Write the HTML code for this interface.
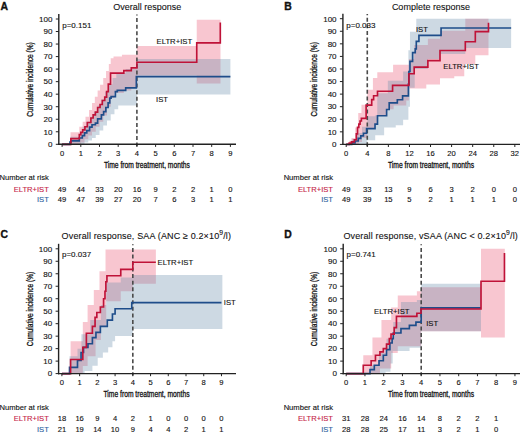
<!DOCTYPE html><html><head><meta charset="utf-8"><style>html,body{margin:0;padding:0;background:#fff;}svg{display:block;}text{font-family:"Liberation Sans", sans-serif;stroke-width:0.12px;}text:not([stroke]){stroke:#111;}</style></head><body>
<svg width="520" height="434" viewBox="0 0 520 434" fill="#111"><g stroke="none">
<rect width="520" height="434" fill="#fff"/>
<path d="M70.52 132.27 L79.3 132.27 L79.3 126.76 L82.67 126.76 L82.67 121.75 L85.47 121.75 L85.47 116.73 L89.03 116.73 L89.03 109.97 L92.02 109.97 L92.02 102.95 L94.83 102.95 L94.83 96.69 L97.63 96.69 L97.63 90.42 L100.06 90.42 L100.06 84.66 L103.24 84.66 L103.24 77.89 L106.05 77.89 L106.05 71 L108.85 71 L108.85 64.11 L110.72 64.11 L110.72 58.22 L113.53 58.22 L113.53 56.59 L121.94 56.59 L121.94 54.71 L136.9 54.71 L136.9 45.94 L196.74 45.94 L196.74 19.63 L220.49 19.63 L220.49 83.53 L196.74 83.53 L196.74 75.39 L136.9 75.39 L136.9 87.92 L131.29 87.92 L131.29 90.42 L123.81 90.42 L123.81 92.93 L114.46 92.93 L114.46 97.94 L110.72 97.94 L110.72 106.71 L106.98 106.71 L106.98 115.48 L103.24 115.48 L103.24 121.75 L99.5 121.75 L99.5 126.76 L95.76 126.76 L95.76 131.77 L92.02 131.77 L92.02 135.53 L88.28 135.53 L88.28 139.29 L84.54 139.29 L84.54 142.42 L80.8 142.42 L80.8 144.3 L70.52 144.3 Z" fill="#ea5271" fill-opacity="0.33"/>
<path d="M70.52 136.78 L79.86 136.78 L79.86 131.77 L82.67 131.77 L82.67 126.76 L86.41 126.76 L86.41 121.75 L90.15 121.75 L90.15 116.73 L93.89 116.73 L93.89 111.72 L97.63 111.72 L97.63 105.46 L101.37 105.46 L101.37 99.19 L105.11 99.19 L105.11 91.67 L108.85 91.67 L108.85 84.16 L112.59 84.16 L112.59 77.89 L116.33 77.89 L116.33 72.88 L125.68 72.88 L125.68 69.12 L136.9 69.12 L136.9 59.1 L230.4 59.1 L230.4 94.56 L136.9 94.56 L136.9 105.46 L118.2 105.46 L118.2 109.22 L114.46 109.22 L114.46 114.23 L110.72 114.23 L110.72 120.49 L106.98 120.49 L106.98 125.51 L103.24 125.51 L103.24 130.52 L99.5 130.52 L99.5 134.9 L95.76 134.9 L95.76 138.04 L92.02 138.04 L92.02 140.54 L88.28 140.54 L88.28 142.42 L84.54 142.42 L84.54 144.3 L70.52 144.3 Z" fill="#688caa" fill-opacity="0.33"/>
<line x1="136.9" y1="14.4" x2="136.9" y2="146.3" stroke="#4a4a4a" stroke-width="1.6" stroke-dasharray="4,2.55" stroke-dashoffset="2.85"/>
<path d="M62.1 144.3 H69.95 V142.04 H71.08 V140.92 H79.3 V138.04 H82.3 V135.65 H84.54 V132.9 H86.78 V130.64 H89.59 V127.13 H92.02 V124.75 H95.39 V123.12 H97.63 V118.86 H101.37 V114.85 H103.61 V111.6 H105.86 V107.46 H108.1 V102.83 H109.78 V98.19 H111.09 V96.69 H115.4 V91.67 H117.27 V90.42 H125.68 V87.92 H136.34 V76.64 H230.4" fill="none" stroke="#1e4d8a" stroke-width="1.65"/>
<path d="M62.1 144.3 H70.89 V138.66 H79.3 V134.65 H80.8 V132.4 H82.67 V129.89 H84.91 V126.76 H87.34 V122.5 H90.9 V117.99 H93.14 V114.85 H95.39 V112.1 H97.63 V107.46 H100.06 V104.45 H102.31 V100.45 H104.74 V97.06 H106.61 V91.67 H108.29 V84.16 H110.53 V73.13 H123.81 V70.62 H131.29 V67.87 H136.9 V62.23 H196.74 V42.81 H220.3 V22.51 H220.3" fill="none" stroke="#bf1238" stroke-width="1.65"/>
<line x1="58.8" y1="14" x2="58.8" y2="145" stroke="#222" stroke-width="1.4"/>
<line x1="58.1" y1="144.3" x2="236" y2="144.3" stroke="#222" stroke-width="1.4"/>
<line x1="55.8" y1="144.3" x2="58.8" y2="144.3" stroke="#222" stroke-width="1"/>
<text x="52.5" y="147.1" text-anchor="end" font-size="8.05">0</text>
<line x1="55.8" y1="131.77" x2="58.8" y2="131.77" stroke="#222" stroke-width="1"/>
<text x="52.5" y="134.57" text-anchor="end" font-size="8.05">10</text>
<line x1="55.8" y1="119.24" x2="58.8" y2="119.24" stroke="#222" stroke-width="1"/>
<text x="52.5" y="122.04" text-anchor="end" font-size="8.05">20</text>
<line x1="55.8" y1="106.71" x2="58.8" y2="106.71" stroke="#222" stroke-width="1"/>
<text x="52.5" y="109.51" text-anchor="end" font-size="8.05">30</text>
<line x1="55.8" y1="94.18" x2="58.8" y2="94.18" stroke="#222" stroke-width="1"/>
<text x="52.5" y="96.98" text-anchor="end" font-size="8.05">40</text>
<line x1="55.8" y1="81.65" x2="58.8" y2="81.65" stroke="#222" stroke-width="1"/>
<text x="52.5" y="84.45" text-anchor="end" font-size="8.05">50</text>
<line x1="55.8" y1="69.12" x2="58.8" y2="69.12" stroke="#222" stroke-width="1"/>
<text x="52.5" y="71.92" text-anchor="end" font-size="8.05">60</text>
<line x1="55.8" y1="56.59" x2="58.8" y2="56.59" stroke="#222" stroke-width="1"/>
<text x="52.5" y="59.39" text-anchor="end" font-size="8.05">70</text>
<line x1="55.8" y1="44.06" x2="58.8" y2="44.06" stroke="#222" stroke-width="1"/>
<text x="52.5" y="46.86" text-anchor="end" font-size="8.05">80</text>
<line x1="55.8" y1="31.53" x2="58.8" y2="31.53" stroke="#222" stroke-width="1"/>
<text x="52.5" y="34.33" text-anchor="end" font-size="8.05">90</text>
<line x1="55.8" y1="19" x2="58.8" y2="19" stroke="#222" stroke-width="1"/>
<text x="52.5" y="21.8" text-anchor="end" font-size="8.05">100</text>
<line x1="62.1" y1="144.3" x2="62.1" y2="146.9" stroke="#222" stroke-width="1"/>
<text x="62.1" y="156.1" text-anchor="middle" font-size="7.6">0</text>
<line x1="80.8" y1="144.3" x2="80.8" y2="146.9" stroke="#222" stroke-width="1"/>
<text x="80.8" y="156.1" text-anchor="middle" font-size="7.6">1</text>
<line x1="99.5" y1="144.3" x2="99.5" y2="146.9" stroke="#222" stroke-width="1"/>
<text x="99.5" y="156.1" text-anchor="middle" font-size="7.6">2</text>
<line x1="118.2" y1="144.3" x2="118.2" y2="146.9" stroke="#222" stroke-width="1"/>
<text x="118.2" y="156.1" text-anchor="middle" font-size="7.6">3</text>
<line x1="136.9" y1="144.3" x2="136.9" y2="146.9" stroke="#222" stroke-width="1"/>
<text x="136.9" y="156.1" text-anchor="middle" font-size="7.6">4</text>
<line x1="155.6" y1="144.3" x2="155.6" y2="146.9" stroke="#222" stroke-width="1"/>
<text x="155.6" y="156.1" text-anchor="middle" font-size="7.6">5</text>
<line x1="174.3" y1="144.3" x2="174.3" y2="146.9" stroke="#222" stroke-width="1"/>
<text x="174.3" y="156.1" text-anchor="middle" font-size="7.6">6</text>
<line x1="193" y1="144.3" x2="193" y2="146.9" stroke="#222" stroke-width="1"/>
<text x="193" y="156.1" text-anchor="middle" font-size="7.6">7</text>
<line x1="211.7" y1="144.3" x2="211.7" y2="146.9" stroke="#222" stroke-width="1"/>
<text x="211.7" y="156.1" text-anchor="middle" font-size="7.6">8</text>
<line x1="230.4" y1="144.3" x2="230.4" y2="146.9" stroke="#222" stroke-width="1"/>
<text x="230.4" y="156.1" text-anchor="middle" font-size="7.6">9</text>
<text x="146.9" y="167.7" text-anchor="middle" font-size="8.6" style="stroke-width:0.3px" textLength="86" lengthAdjust="spacingAndGlyphs">Time from treatment, months</text>
<text transform="translate(32.9 79.45) rotate(-90)" text-anchor="middle" font-size="8.6" style="stroke-width:0.3px" textLength="74.5" lengthAdjust="spacingAndGlyphs">Cumulative incidence (%)</text>
<text x="0.6" y="10.2" font-size="10.4" font-weight="bold" style="stroke-width:0.35px">A</text>
<text x="147.2" y="9.6" text-anchor="middle" font-size="9" style="stroke-width:0.1px">Overall response</text>
<text x="62.2" y="27.9" font-size="8">p=0.151</text>
<text x="156.6" y="44.1" font-size="7.7">ELTR+IST</text>
<text x="156.1" y="101.5" font-size="7.7">IST</text>
<text x="48.8" y="180" text-anchor="end" font-size="7.6">Number at risk</text>
<text x="48.8" y="191.7" text-anchor="end" font-size="7.6" fill="#c52348" stroke="#c52348">ELTR+IST</text>
<text x="48.8" y="202.3" text-anchor="end" font-size="7.6" fill="#2d62a0" stroke="#2d62a0">IST</text>
<text x="62.1" y="191.7" text-anchor="middle" font-size="7.6">49</text>
<text x="62.1" y="202.3" text-anchor="middle" font-size="7.6">49</text>
<text x="80.8" y="191.7" text-anchor="middle" font-size="7.6">44</text>
<text x="80.8" y="202.3" text-anchor="middle" font-size="7.6">47</text>
<text x="99.5" y="191.7" text-anchor="middle" font-size="7.6">33</text>
<text x="99.5" y="202.3" text-anchor="middle" font-size="7.6">39</text>
<text x="118.2" y="191.7" text-anchor="middle" font-size="7.6">20</text>
<text x="118.2" y="202.3" text-anchor="middle" font-size="7.6">27</text>
<text x="136.9" y="191.7" text-anchor="middle" font-size="7.6">16</text>
<text x="136.9" y="202.3" text-anchor="middle" font-size="7.6">20</text>
<text x="155.6" y="191.7" text-anchor="middle" font-size="7.6">9</text>
<text x="155.6" y="202.3" text-anchor="middle" font-size="7.6">7</text>
<text x="174.3" y="191.7" text-anchor="middle" font-size="7.6">2</text>
<text x="174.3" y="202.3" text-anchor="middle" font-size="7.6">6</text>
<text x="193" y="191.7" text-anchor="middle" font-size="7.6">2</text>
<text x="193" y="202.3" text-anchor="middle" font-size="7.6">3</text>
<text x="211.7" y="191.7" text-anchor="middle" font-size="7.6">1</text>
<text x="211.7" y="202.3" text-anchor="middle" font-size="7.6">1</text>
<text x="230.4" y="191.7" text-anchor="middle" font-size="7.6">0</text>
<text x="230.4" y="202.3" text-anchor="middle" font-size="7.6">1</text>
<path d="M349.2 140.63 L351.47 140.63 L351.47 138.12 L355.16 138.12 L355.16 127.43 L358.22 127.43 L358.22 112.98 L361.48 112.98 L361.48 104.8 L367.28 104.8 L367.28 89.85 L372.92 89.85 L372.92 78.03 L377.29 78.03 L377.29 72.25 L393.1 72.25 L393.1 64.83 L408.91 64.83 L408.91 58.92 L414.18 58.92 L414.18 45.1 L427.88 45.1 L427.88 38.81 L440.01 38.81 L440.01 30.64 L465.3 30.64 L465.3 18.7 L488.49 18.7 L488.49 55.15 L475.31 55.15 L475.31 63.95 L464.25 63.95 L464.25 76.14 L454.24 76.14 L454.24 78.16 L440.01 78.16 L440.01 84.44 L426.3 84.44 L426.3 88.46 L408.91 88.46 L408.91 100.41 L406.28 100.41 L406.28 105.43 L393.63 105.43 L393.63 109.33 L386.52 109.33 L386.52 115.49 L377.29 115.49 L377.29 124.29 L374.92 124.29 L374.92 128.69 L367.28 128.69 L367.28 138.12 L362.01 138.12 L362.01 141.89 L358.85 141.89 L358.85 144.4 L349.2 144.4 Z" fill="#ea5271" fill-opacity="0.33"/>
<path d="M351.73 139.37 L356.74 139.37 L356.74 133.09 L362.01 133.09 L362.01 126.8 L367.28 126.8 L367.28 116.24 L374.92 116.24 L374.92 115.49 L377.29 115.49 L377.29 93.24 L387.83 93.24 L387.83 80.67 L403.12 80.67 L403.12 71.49 L408.39 71.49 L408.39 50.13 L409.97 50.13 L409.97 31.65 L416.29 31.65 L416.29 18.7 L511.15 18.7 L511.15 48.11 L465.3 48.11 L465.3 53.9 L440.01 53.9 L440.01 58.92 L427.88 58.92 L427.88 68.98 L414.71 68.98 L414.71 87.84 L409.97 87.84 L409.97 106.69 L408.39 106.69 L408.39 119.64 L403.12 119.64 L403.12 125.17 L395.74 125.17 L395.74 127.43 L384.14 127.43 L384.14 135.22 L375.19 135.22 L375.19 140.25 L367.28 140.25 L367.28 144.4 L351.73 144.4 Z" fill="#688caa" fill-opacity="0.33"/>
<line x1="367.28" y1="14.1" x2="367.28" y2="146.4" stroke="#4a4a4a" stroke-width="1.6" stroke-dasharray="4,2.55" stroke-dashoffset="2.85"/>
<path d="M346.2 144.4 H351.73 V142.89 H355 V141.01 H358.22 V138.37 H360.8 V135.85 H363.43 V133.21 H366.59 V128.69 H375.03 V124.16 H377.5 V115.74 H386.62 V109.46 H389.2 V102.92 H397.32 V99.78 H402.59 V95.88 H408.39 V84.06 H408.91 V71.49 H409.97 V61.44 H412.6 V52.64 H415.24 V48.87 H416.29 V41.33 H418.93 V35.42 H441.06 V28 H511.15" fill="none" stroke="#1e4d8a" stroke-width="1.65"/>
<path d="M346.2 144.4 H349.2 V143.14 H351.47 V141.89 H354.32 V139.75 H356.32 V133.84 H357.53 V127.43 H358.8 V124.16 H360.06 V121.02 H361.38 V118.38 H366.12 V105.06 H371.71 V99.65 H373.6 V95.75 H377.5 V91.23 H392.58 V85.32 H408.91 V73.76 H414.18 V67.09 H427.88 V60.56 H440.01 V50.5 H465.3 V41.7 H475.31 V31.65 H488.49 V22.85 H488.49" fill="none" stroke="#bf1238" stroke-width="1.65"/>
<line x1="342.9" y1="13.7" x2="342.9" y2="145.1" stroke="#222" stroke-width="1.4"/>
<line x1="342.2" y1="144.4" x2="520" y2="144.4" stroke="#222" stroke-width="1.4"/>
<line x1="339.9" y1="144.4" x2="342.9" y2="144.4" stroke="#222" stroke-width="1"/>
<text x="336.6" y="147.2" text-anchor="end" font-size="8.05">0</text>
<line x1="339.9" y1="131.83" x2="342.9" y2="131.83" stroke="#222" stroke-width="1"/>
<text x="336.6" y="134.63" text-anchor="end" font-size="8.05">10</text>
<line x1="339.9" y1="119.26" x2="342.9" y2="119.26" stroke="#222" stroke-width="1"/>
<text x="336.6" y="122.06" text-anchor="end" font-size="8.05">20</text>
<line x1="339.9" y1="106.69" x2="342.9" y2="106.69" stroke="#222" stroke-width="1"/>
<text x="336.6" y="109.49" text-anchor="end" font-size="8.05">30</text>
<line x1="339.9" y1="94.12" x2="342.9" y2="94.12" stroke="#222" stroke-width="1"/>
<text x="336.6" y="96.92" text-anchor="end" font-size="8.05">40</text>
<line x1="339.9" y1="81.55" x2="342.9" y2="81.55" stroke="#222" stroke-width="1"/>
<text x="336.6" y="84.35" text-anchor="end" font-size="8.05">50</text>
<line x1="339.9" y1="68.98" x2="342.9" y2="68.98" stroke="#222" stroke-width="1"/>
<text x="336.6" y="71.78" text-anchor="end" font-size="8.05">60</text>
<line x1="339.9" y1="56.41" x2="342.9" y2="56.41" stroke="#222" stroke-width="1"/>
<text x="336.6" y="59.21" text-anchor="end" font-size="8.05">70</text>
<line x1="339.9" y1="43.84" x2="342.9" y2="43.84" stroke="#222" stroke-width="1"/>
<text x="336.6" y="46.64" text-anchor="end" font-size="8.05">80</text>
<line x1="339.9" y1="31.27" x2="342.9" y2="31.27" stroke="#222" stroke-width="1"/>
<text x="336.6" y="34.07" text-anchor="end" font-size="8.05">90</text>
<line x1="339.9" y1="18.7" x2="342.9" y2="18.7" stroke="#222" stroke-width="1"/>
<text x="336.6" y="21.5" text-anchor="end" font-size="8.05">100</text>
<line x1="346.2" y1="144.4" x2="346.2" y2="147" stroke="#222" stroke-width="1"/>
<text x="346.2" y="156.2" text-anchor="middle" font-size="7.6">0</text>
<line x1="367.28" y1="144.4" x2="367.28" y2="147" stroke="#222" stroke-width="1"/>
<text x="367.28" y="156.2" text-anchor="middle" font-size="7.6">4</text>
<line x1="388.36" y1="144.4" x2="388.36" y2="147" stroke="#222" stroke-width="1"/>
<text x="388.36" y="156.2" text-anchor="middle" font-size="7.6">8</text>
<line x1="409.44" y1="144.4" x2="409.44" y2="147" stroke="#222" stroke-width="1"/>
<text x="409.44" y="156.2" text-anchor="middle" font-size="7.6">12</text>
<line x1="430.52" y1="144.4" x2="430.52" y2="147" stroke="#222" stroke-width="1"/>
<text x="430.52" y="156.2" text-anchor="middle" font-size="7.6">16</text>
<line x1="451.6" y1="144.4" x2="451.6" y2="147" stroke="#222" stroke-width="1"/>
<text x="451.6" y="156.2" text-anchor="middle" font-size="7.6">20</text>
<line x1="472.68" y1="144.4" x2="472.68" y2="147" stroke="#222" stroke-width="1"/>
<text x="472.68" y="156.2" text-anchor="middle" font-size="7.6">24</text>
<line x1="493.76" y1="144.4" x2="493.76" y2="147" stroke="#222" stroke-width="1"/>
<text x="493.76" y="156.2" text-anchor="middle" font-size="7.6">28</text>
<line x1="514.84" y1="144.4" x2="514.84" y2="147" stroke="#222" stroke-width="1"/>
<text x="514.84" y="156.2" text-anchor="middle" font-size="7.6">32</text>
<text x="431" y="167.8" text-anchor="middle" font-size="8.6" style="stroke-width:0.3px" textLength="86" lengthAdjust="spacingAndGlyphs">Time from treatment, months</text>
<text transform="translate(317 79.35) rotate(-90)" text-anchor="middle" font-size="8.6" style="stroke-width:0.3px" textLength="74.5" lengthAdjust="spacingAndGlyphs">Cumulative incidence (%)</text>
<text x="284.2" y="10.2" font-size="10.4" font-weight="bold" style="stroke-width:0.35px">B</text>
<text x="430.9" y="9.6" text-anchor="middle" font-size="9" style="stroke-width:0.1px">Complete response</text>
<text x="346.3" y="27.6" font-size="8">p=0.033</text>
<text x="443.3" y="69.2" font-size="7.7">ELTR+IST</text>
<text x="415.9" y="31.8" font-size="7.7">IST</text>
<text x="333" y="180" text-anchor="end" font-size="7.6">Number at risk</text>
<text x="333" y="191.7" text-anchor="end" font-size="7.6" fill="#c52348" stroke="#c52348">ELTR+IST</text>
<text x="333" y="202.3" text-anchor="end" font-size="7.6" fill="#2d62a0" stroke="#2d62a0">IST</text>
<text x="346.2" y="191.7" text-anchor="middle" font-size="7.6">49</text>
<text x="346.2" y="202.3" text-anchor="middle" font-size="7.6">49</text>
<text x="367.28" y="191.7" text-anchor="middle" font-size="7.6">33</text>
<text x="367.28" y="202.3" text-anchor="middle" font-size="7.6">39</text>
<text x="388.36" y="191.7" text-anchor="middle" font-size="7.6">13</text>
<text x="388.36" y="202.3" text-anchor="middle" font-size="7.6">15</text>
<text x="409.44" y="191.7" text-anchor="middle" font-size="7.6">9</text>
<text x="409.44" y="202.3" text-anchor="middle" font-size="7.6">5</text>
<text x="430.52" y="191.7" text-anchor="middle" font-size="7.6">6</text>
<text x="430.52" y="202.3" text-anchor="middle" font-size="7.6">2</text>
<text x="451.6" y="191.7" text-anchor="middle" font-size="7.6">3</text>
<text x="451.6" y="202.3" text-anchor="middle" font-size="7.6">1</text>
<text x="472.68" y="191.7" text-anchor="middle" font-size="7.6">2</text>
<text x="472.68" y="202.3" text-anchor="middle" font-size="7.6">1</text>
<text x="493.76" y="191.7" text-anchor="middle" font-size="7.6">0</text>
<text x="493.76" y="202.3" text-anchor="middle" font-size="7.6">1</text>
<text x="514.84" y="191.7" text-anchor="middle" font-size="7.6">0</text>
<text x="514.84" y="202.3" text-anchor="middle" font-size="7.6">0</text>
<path d="M70.59 341.15 L82.82 341.15 L82.82 321.93 L87.61 321.93 L87.61 304.96 L93.81 304.96 L93.81 289.98 L99.49 289.98 L99.49 271.26 L105.52 271.26 L105.52 249.42 L155.87 249.42 L155.87 283.74 L132.82 283.74 L132.82 291.23 L120.76 291.23 L120.76 301.22 L106.22 301.22 L106.22 326.18 L100.91 326.18 L100.91 339.9 L95.59 339.9 L95.59 356.13 L87.61 356.13 L87.61 366.11 L82.82 366.11 L82.82 373.6 L70.59 373.6 Z" fill="#ea5271" fill-opacity="0.33"/>
<path d="M69.52 356.13 L77.5 356.13 L77.5 348.64 L81.4 348.64 L81.4 334.29 L90.27 334.29 L90.27 319.94 L100.91 319.94 L100.91 304.96 L106.22 304.96 L106.22 282.5 L120.76 282.5 L120.76 277.5 L132.82 277.5 L132.82 275.01 L222.36 275.01 L222.36 329.05 L132.82 329.05 L132.82 335.91 L115.09 335.91 L115.09 341.15 L112.43 341.15 L112.43 347.27 L108.18 347.27 L108.18 352.51 L102.86 352.51 L102.86 357.75 L97.71 357.75 L97.71 365.74 L92.4 365.74 L92.4 371.1 L84.59 371.1 L84.59 373.6 L69.52 373.6 Z" fill="#688caa" fill-opacity="0.33"/>
<line x1="132.82" y1="244.2" x2="132.82" y2="375.6" stroke="#4a4a4a" stroke-width="1.6" stroke-dasharray="4,2.55" stroke-dashoffset="2.85"/>
<path d="M61.9 373.6 H69.52 V367.36 H77.5 V360.37 H81.05 V352.51 H83.53 V347.39 H87.96 V343.77 H92.4 V337.66 H95.94 V332.42 H100.37 V326.3 H107.29 V320.06 H112.43 V313.95 H115.09 V308.7 H131.76 V302.59 H221.47" fill="none" stroke="#1e4d8a" stroke-width="1.65"/>
<path d="M61.9 373.6 H70.59 V359.5 H82.82 V347.39 H86.37 V333.29 H92.4 V326.3 H95.06 V317.44 H96.83 V312.45 H100.37 V306.96 H103.57 V298.72 H104.98 V291.23 H105.87 V281.75 H106.93 V275.76 H120.76 V269.39 H132.82 V262.28 H155.87" fill="none" stroke="#bf1238" stroke-width="1.65"/>
<line x1="58.6" y1="243.8" x2="58.6" y2="374.3" stroke="#222" stroke-width="1.4"/>
<line x1="57.9" y1="373.6" x2="236" y2="373.6" stroke="#222" stroke-width="1.4"/>
<line x1="55.6" y1="373.6" x2="58.6" y2="373.6" stroke="#222" stroke-width="1"/>
<text x="52.3" y="376.4" text-anchor="end" font-size="8.05">0</text>
<line x1="55.6" y1="361.12" x2="58.6" y2="361.12" stroke="#222" stroke-width="1"/>
<text x="52.3" y="363.92" text-anchor="end" font-size="8.05">10</text>
<line x1="55.6" y1="348.64" x2="58.6" y2="348.64" stroke="#222" stroke-width="1"/>
<text x="52.3" y="351.44" text-anchor="end" font-size="8.05">20</text>
<line x1="55.6" y1="336.16" x2="58.6" y2="336.16" stroke="#222" stroke-width="1"/>
<text x="52.3" y="338.96" text-anchor="end" font-size="8.05">30</text>
<line x1="55.6" y1="323.68" x2="58.6" y2="323.68" stroke="#222" stroke-width="1"/>
<text x="52.3" y="326.48" text-anchor="end" font-size="8.05">40</text>
<line x1="55.6" y1="311.2" x2="58.6" y2="311.2" stroke="#222" stroke-width="1"/>
<text x="52.3" y="314" text-anchor="end" font-size="8.05">50</text>
<line x1="55.6" y1="298.72" x2="58.6" y2="298.72" stroke="#222" stroke-width="1"/>
<text x="52.3" y="301.52" text-anchor="end" font-size="8.05">60</text>
<line x1="55.6" y1="286.24" x2="58.6" y2="286.24" stroke="#222" stroke-width="1"/>
<text x="52.3" y="289.04" text-anchor="end" font-size="8.05">70</text>
<line x1="55.6" y1="273.76" x2="58.6" y2="273.76" stroke="#222" stroke-width="1"/>
<text x="52.3" y="276.56" text-anchor="end" font-size="8.05">80</text>
<line x1="55.6" y1="261.28" x2="58.6" y2="261.28" stroke="#222" stroke-width="1"/>
<text x="52.3" y="264.08" text-anchor="end" font-size="8.05">90</text>
<line x1="55.6" y1="248.8" x2="58.6" y2="248.8" stroke="#222" stroke-width="1"/>
<text x="52.3" y="251.6" text-anchor="end" font-size="8.05">100</text>
<line x1="61.9" y1="373.6" x2="61.9" y2="376.2" stroke="#222" stroke-width="1"/>
<text x="61.9" y="385.4" text-anchor="middle" font-size="7.6">0</text>
<line x1="79.63" y1="373.6" x2="79.63" y2="376.2" stroke="#222" stroke-width="1"/>
<text x="79.63" y="385.4" text-anchor="middle" font-size="7.6">1</text>
<line x1="97.36" y1="373.6" x2="97.36" y2="376.2" stroke="#222" stroke-width="1"/>
<text x="97.36" y="385.4" text-anchor="middle" font-size="7.6">2</text>
<line x1="115.09" y1="373.6" x2="115.09" y2="376.2" stroke="#222" stroke-width="1"/>
<text x="115.09" y="385.4" text-anchor="middle" font-size="7.6">3</text>
<line x1="132.82" y1="373.6" x2="132.82" y2="376.2" stroke="#222" stroke-width="1"/>
<text x="132.82" y="385.4" text-anchor="middle" font-size="7.6">4</text>
<line x1="150.55" y1="373.6" x2="150.55" y2="376.2" stroke="#222" stroke-width="1"/>
<text x="150.55" y="385.4" text-anchor="middle" font-size="7.6">5</text>
<line x1="168.28" y1="373.6" x2="168.28" y2="376.2" stroke="#222" stroke-width="1"/>
<text x="168.28" y="385.4" text-anchor="middle" font-size="7.6">6</text>
<line x1="186.01" y1="373.6" x2="186.01" y2="376.2" stroke="#222" stroke-width="1"/>
<text x="186.01" y="385.4" text-anchor="middle" font-size="7.6">7</text>
<line x1="203.74" y1="373.6" x2="203.74" y2="376.2" stroke="#222" stroke-width="1"/>
<text x="203.74" y="385.4" text-anchor="middle" font-size="7.6">8</text>
<line x1="221.47" y1="373.6" x2="221.47" y2="376.2" stroke="#222" stroke-width="1"/>
<text x="221.47" y="385.4" text-anchor="middle" font-size="7.6">9</text>
<text x="146.5" y="397" text-anchor="middle" font-size="8.6" style="stroke-width:0.3px" textLength="86" lengthAdjust="spacingAndGlyphs">Time from treatment, months</text>
<text transform="translate(32.7 309) rotate(-90)" text-anchor="middle" font-size="8.6" style="stroke-width:0.3px" textLength="74.5" lengthAdjust="spacingAndGlyphs">Cumulative incidence (%)</text>
<text x="0.5" y="237.6" font-size="10.4" font-weight="bold" style="stroke-width:0.35px">C</text>
<text x="61.6" y="238.5" font-size="9" style="stroke-width:0.1px" textLength="169.4" lengthAdjust="spacing">Overall response, SAA (ANC &#8805; 0.2&#215;10<tspan font-size="6.8" dy="-3.4">9</tspan><tspan dy="3.4">/l)</tspan></text>
<text x="62" y="256.9" font-size="8">p=0.037</text>
<text x="157.6" y="265.4" font-size="7.7">ELTR+IST</text>
<text x="223.8" y="305.2" font-size="7.7">IST</text>
<text x="48.8" y="409.5" text-anchor="end" font-size="7.6">Number at risk</text>
<text x="48.8" y="421.2" text-anchor="end" font-size="7.6" fill="#c52348" stroke="#c52348">ELTR+IST</text>
<text x="48.8" y="431.8" text-anchor="end" font-size="7.6" fill="#2d62a0" stroke="#2d62a0">IST</text>
<text x="61.9" y="421.2" text-anchor="middle" font-size="7.6">18</text>
<text x="61.9" y="431.8" text-anchor="middle" font-size="7.6">21</text>
<text x="79.63" y="421.2" text-anchor="middle" font-size="7.6">16</text>
<text x="79.63" y="431.8" text-anchor="middle" font-size="7.6">19</text>
<text x="97.36" y="421.2" text-anchor="middle" font-size="7.6">9</text>
<text x="97.36" y="431.8" text-anchor="middle" font-size="7.6">14</text>
<text x="115.09" y="421.2" text-anchor="middle" font-size="7.6">4</text>
<text x="115.09" y="431.8" text-anchor="middle" font-size="7.6">10</text>
<text x="132.82" y="421.2" text-anchor="middle" font-size="7.6">2</text>
<text x="132.82" y="431.8" text-anchor="middle" font-size="7.6">9</text>
<text x="150.55" y="421.2" text-anchor="middle" font-size="7.6">1</text>
<text x="150.55" y="431.8" text-anchor="middle" font-size="7.6">4</text>
<text x="168.28" y="421.2" text-anchor="middle" font-size="7.6">0</text>
<text x="168.28" y="431.8" text-anchor="middle" font-size="7.6">4</text>
<text x="186.01" y="421.2" text-anchor="middle" font-size="7.6">0</text>
<text x="186.01" y="431.8" text-anchor="middle" font-size="7.6">2</text>
<text x="203.74" y="421.2" text-anchor="middle" font-size="7.6">0</text>
<text x="203.74" y="431.8" text-anchor="middle" font-size="7.6">1</text>
<text x="221.47" y="421.2" text-anchor="middle" font-size="7.6">0</text>
<text x="221.47" y="431.8" text-anchor="middle" font-size="7.6">1</text>
<path d="M363.26 355.25 L372.45 355.25 L372.45 337.41 L381.45 337.41 L381.45 319.94 L391.2 319.94 L391.2 307.46 L397.76 307.46 L397.76 295.48 L416.89 295.48 L416.89 291.23 L421.2 291.23 L421.2 287.24 L481.01 287.24 L481.01 248.8 L504.83 248.8 L504.83 337.41 L481.01 337.41 L481.01 331.17 L421.2 331.17 L421.2 346.14 L397.76 346.14 L397.76 353.01 L391.2 353.01 L391.2 368.61 L379.95 368.61 L379.95 373.6 L363.26 373.6 Z" fill="#ea5271" fill-opacity="0.33"/>
<path d="M370.01 365.24 L379.01 365.24 L379.01 353.01 L386.51 353.01 L386.51 338.66 L393.26 338.66 L393.26 322.06 L400.95 322.06 L400.95 302.09 L416.89 302.09 L416.89 299.97 L421.2 299.97 L421.2 283.74 L481.01 283.74 L481.01 331.17 L421.2 331.17 L421.2 347.64 L409.57 347.64 L409.57 351.01 L392.7 351.01 L392.7 363.62 L390.45 363.62 L390.45 371.73 L385.57 371.73 L385.57 373.6 L370.01 373.6 Z" fill="#688caa" fill-opacity="0.33"/>
<line x1="421.2" y1="244.2" x2="421.2" y2="375.6" stroke="#4a4a4a" stroke-width="1.6" stroke-dasharray="4,2.55" stroke-dashoffset="2.85"/>
<path d="M346.2 373.6 H370.01 V369.61 H374.32 V365.24 H379.01 V360.75 H383.32 V355.25 H386.51 V349.64 H389.89 V343.02 H392.14 V338.66 H393.26 V333.04 H400.95 V328.67 H409.39 V325.43 H415.95 V322.06 H421.2 V307.83 H481.01" fill="none" stroke="#1e4d8a" stroke-width="1.65"/>
<path d="M346.2 373.6 H363.26 V365.24 H371.14 V360.75 H375.45 V355.25 H379.95 V351.88 H383.32 V348.64 H386.51 V344.15 H389.32 V338.66 H391.01 V334.16 H394.2 V327.55 H396.45 V316.44 H416.89 V313.2 H421.01 V308.95 H481.01 V281.25 H504.45 V253.04 H504.45" fill="none" stroke="#bf1238" stroke-width="1.65"/>
<line x1="343.2" y1="243.8" x2="343.2" y2="374.3" stroke="#222" stroke-width="1.4"/>
<line x1="342.5" y1="373.6" x2="520" y2="373.6" stroke="#222" stroke-width="1.4"/>
<line x1="340.2" y1="373.6" x2="343.2" y2="373.6" stroke="#222" stroke-width="1"/>
<text x="336.9" y="376.4" text-anchor="end" font-size="8.05">0</text>
<line x1="340.2" y1="361.12" x2="343.2" y2="361.12" stroke="#222" stroke-width="1"/>
<text x="336.9" y="363.92" text-anchor="end" font-size="8.05">10</text>
<line x1="340.2" y1="348.64" x2="343.2" y2="348.64" stroke="#222" stroke-width="1"/>
<text x="336.9" y="351.44" text-anchor="end" font-size="8.05">20</text>
<line x1="340.2" y1="336.16" x2="343.2" y2="336.16" stroke="#222" stroke-width="1"/>
<text x="336.9" y="338.96" text-anchor="end" font-size="8.05">30</text>
<line x1="340.2" y1="323.68" x2="343.2" y2="323.68" stroke="#222" stroke-width="1"/>
<text x="336.9" y="326.48" text-anchor="end" font-size="8.05">40</text>
<line x1="340.2" y1="311.2" x2="343.2" y2="311.2" stroke="#222" stroke-width="1"/>
<text x="336.9" y="314" text-anchor="end" font-size="8.05">50</text>
<line x1="340.2" y1="298.72" x2="343.2" y2="298.72" stroke="#222" stroke-width="1"/>
<text x="336.9" y="301.52" text-anchor="end" font-size="8.05">60</text>
<line x1="340.2" y1="286.24" x2="343.2" y2="286.24" stroke="#222" stroke-width="1"/>
<text x="336.9" y="289.04" text-anchor="end" font-size="8.05">70</text>
<line x1="340.2" y1="273.76" x2="343.2" y2="273.76" stroke="#222" stroke-width="1"/>
<text x="336.9" y="276.56" text-anchor="end" font-size="8.05">80</text>
<line x1="340.2" y1="261.28" x2="343.2" y2="261.28" stroke="#222" stroke-width="1"/>
<text x="336.9" y="264.08" text-anchor="end" font-size="8.05">90</text>
<line x1="340.2" y1="248.8" x2="343.2" y2="248.8" stroke="#222" stroke-width="1"/>
<text x="336.9" y="251.6" text-anchor="end" font-size="8.05">100</text>
<line x1="346.2" y1="373.6" x2="346.2" y2="376.2" stroke="#222" stroke-width="1"/>
<text x="346.2" y="385.4" text-anchor="middle" font-size="7.6">0</text>
<line x1="364.95" y1="373.6" x2="364.95" y2="376.2" stroke="#222" stroke-width="1"/>
<text x="364.95" y="385.4" text-anchor="middle" font-size="7.6">1</text>
<line x1="383.7" y1="373.6" x2="383.7" y2="376.2" stroke="#222" stroke-width="1"/>
<text x="383.7" y="385.4" text-anchor="middle" font-size="7.6">2</text>
<line x1="402.45" y1="373.6" x2="402.45" y2="376.2" stroke="#222" stroke-width="1"/>
<text x="402.45" y="385.4" text-anchor="middle" font-size="7.6">3</text>
<line x1="421.2" y1="373.6" x2="421.2" y2="376.2" stroke="#222" stroke-width="1"/>
<text x="421.2" y="385.4" text-anchor="middle" font-size="7.6">4</text>
<line x1="439.95" y1="373.6" x2="439.95" y2="376.2" stroke="#222" stroke-width="1"/>
<text x="439.95" y="385.4" text-anchor="middle" font-size="7.6">5</text>
<line x1="458.7" y1="373.6" x2="458.7" y2="376.2" stroke="#222" stroke-width="1"/>
<text x="458.7" y="385.4" text-anchor="middle" font-size="7.6">6</text>
<line x1="477.45" y1="373.6" x2="477.45" y2="376.2" stroke="#222" stroke-width="1"/>
<text x="477.45" y="385.4" text-anchor="middle" font-size="7.6">7</text>
<line x1="496.2" y1="373.6" x2="496.2" y2="376.2" stroke="#222" stroke-width="1"/>
<text x="496.2" y="385.4" text-anchor="middle" font-size="7.6">8</text>
<line x1="514.95" y1="373.6" x2="514.95" y2="376.2" stroke="#222" stroke-width="1"/>
<text x="514.95" y="385.4" text-anchor="middle" font-size="7.6">9</text>
<text x="431" y="397" text-anchor="middle" font-size="8.6" style="stroke-width:0.3px" textLength="86" lengthAdjust="spacingAndGlyphs">Time from treatment, months</text>
<text transform="translate(317.3 309) rotate(-90)" text-anchor="middle" font-size="8.6" style="stroke-width:0.3px" textLength="74.5" lengthAdjust="spacingAndGlyphs">Cumulative incidence (%)</text>
<text x="284.2" y="237.6" font-size="10.4" font-weight="bold" style="stroke-width:0.35px">D</text>
<text x="343.4" y="238.5" font-size="9" style="stroke-width:0.1px" textLength="174.4" lengthAdjust="spacing">Overall response, vSAA (ANC &lt; 0.2&#215;10<tspan font-size="6.8" dy="-3.4">9</tspan><tspan dy="3.4">/l)</tspan></text>
<text x="346.6" y="256.9" font-size="8">p=0.741</text>
<text x="374" y="313.6" font-size="7.7">ELTR+IST</text>
<text x="426.2" y="325.6" font-size="7.7">IST</text>
<text x="333" y="409.5" text-anchor="end" font-size="7.6">Number at risk</text>
<text x="333" y="421.2" text-anchor="end" font-size="7.6" fill="#c52348" stroke="#c52348">ELTR+IST</text>
<text x="333" y="431.8" text-anchor="end" font-size="7.6" fill="#2d62a0" stroke="#2d62a0">IST</text>
<text x="346.2" y="421.2" text-anchor="middle" font-size="7.6">31</text>
<text x="346.2" y="431.8" text-anchor="middle" font-size="7.6">28</text>
<text x="364.95" y="421.2" text-anchor="middle" font-size="7.6">28</text>
<text x="364.95" y="431.8" text-anchor="middle" font-size="7.6">28</text>
<text x="383.7" y="421.2" text-anchor="middle" font-size="7.6">24</text>
<text x="383.7" y="431.8" text-anchor="middle" font-size="7.6">25</text>
<text x="402.45" y="421.2" text-anchor="middle" font-size="7.6">16</text>
<text x="402.45" y="431.8" text-anchor="middle" font-size="7.6">17</text>
<text x="421.2" y="421.2" text-anchor="middle" font-size="7.6">14</text>
<text x="421.2" y="431.8" text-anchor="middle" font-size="7.6">11</text>
<text x="439.95" y="421.2" text-anchor="middle" font-size="7.6">8</text>
<text x="439.95" y="431.8" text-anchor="middle" font-size="7.6">3</text>
<text x="458.7" y="421.2" text-anchor="middle" font-size="7.6">2</text>
<text x="458.7" y="431.8" text-anchor="middle" font-size="7.6">2</text>
<text x="477.45" y="421.2" text-anchor="middle" font-size="7.6">2</text>
<text x="477.45" y="431.8" text-anchor="middle" font-size="7.6">1</text>
<text x="496.2" y="421.2" text-anchor="middle" font-size="7.6">1</text>
<text x="496.2" y="431.8" text-anchor="middle" font-size="7.6">0</text>
</g></svg></body></html>
